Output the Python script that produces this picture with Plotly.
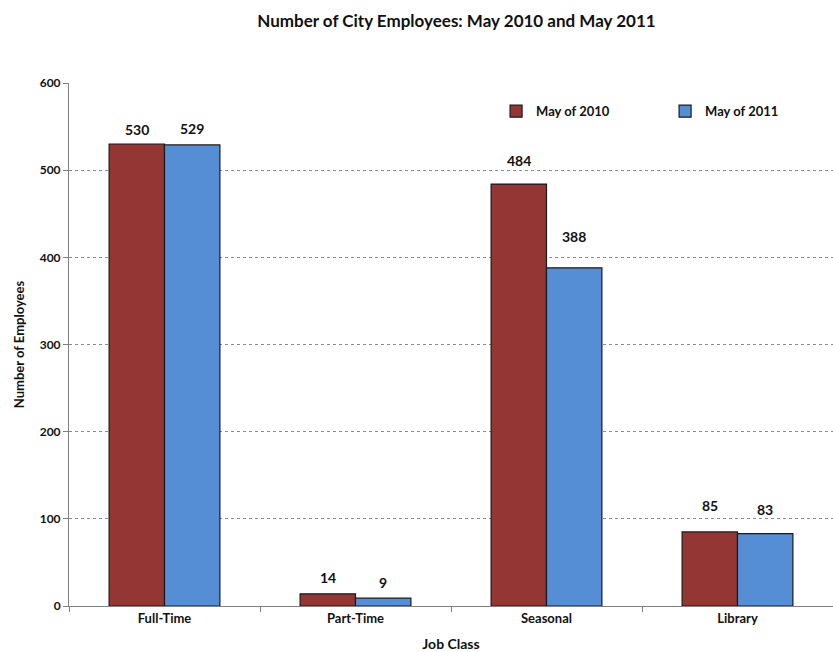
import plotly.graph_objects as go

# Job classes and head counts
job_classes = ["Full-Time", "Part-Time", "Seasonal", "Library"]
may_2010 = [530, 14, 484, 85]
may_2011 = [529, 9, 388, 83]
series_names = ["May of 2010", "May of 2011"]

# label lift above each bar top, in pixels
lift_2010 = [15, 16, 24, 26]
lift_2011 = [16, 16, 31, 24]

RED = "#943634"
BLUE = "#558ED5"
FONT = "Lato"

fig = go.Figure()
for name, vals, color in [(series_names[0], may_2010, RED), (series_names[1], may_2011, BLUE)]:
    fig.add_trace(go.Bar(
        x=job_classes, y=vals, name=f"<b>{name}</b>",
        marker=dict(color=color, line=dict(color="#1a1a1a", width=1.2)),
    ))

# value labels above each bar
for i, cat in enumerate(job_classes):
    for vals, lifts, off in [(may_2010, lift_2010, -0.5), (may_2011, lift_2011, 0.5)]:
        fig.add_annotation(
            x=cat, y=vals[i], xref="x", yref="y", text=f"<b>{vals[i]}</b>",
            showarrow=False, yshift=lifts[i], xshift=off * 55,
            font=dict(family=FONT, size=14, color="#111"),
        )

fig.update_layout(
    width=833, height=652,
    margin=dict(l=69, r=0, t=83, b=46, autoexpand=False),
    paper_bgcolor="white", plot_bgcolor="white",
    font=dict(family=FONT, color="#111"),
    title=dict(text="<b>Number of City Employees: May 2010 and May 2011</b>",
               x=0.548, xanchor="center", y=0.968, yanchor="middle",
               font=dict(family=FONT, size=17, color="#111")),
    barmode="group", bargap=0.42, bargroupgap=0,
    legend=dict(orientation="h", x=0.559, y=0.946, xanchor="left", yanchor="middle",
                entrywidth=124, entrywidthmode="pixels",
                font=dict(family=FONT, size=13, color="#111"),
                bgcolor="rgba(0,0,0,0)", itemwidth=30),
    xaxis=dict(
        title=dict(text="<b>Job Class</b>", font=dict(family=FONT, size=14), standoff=17),
        tickfont=dict(family=FONT, size=13, color="#111"),
        tickprefix="<b>", ticksuffix="</b>",
        showline=True, linecolor="#808080", linewidth=1,
        ticks="outside", tickson="boundaries", ticklen=5, tickcolor="#808080",
        showgrid=False,
    ),
    yaxis=dict(
        title=dict(text="<b>Number of Employees</b>", font=dict(family=FONT, size=13), standoff=12),
        range=[0, 600], dtick=100,
        tickfont=dict(family=FONT, size=12, color="#111"),
        tickprefix="<b>", ticksuffix="</b>",
        showline=True, linecolor="#808080", linewidth=1,
        ticks="outside", ticklen=5, tickcolor="#808080",
        showgrid=True, gridcolor="#8c8c8c", griddash="dot", gridwidth=1,
        zeroline=False,
    ),
)

fig.write_html("out.html")
